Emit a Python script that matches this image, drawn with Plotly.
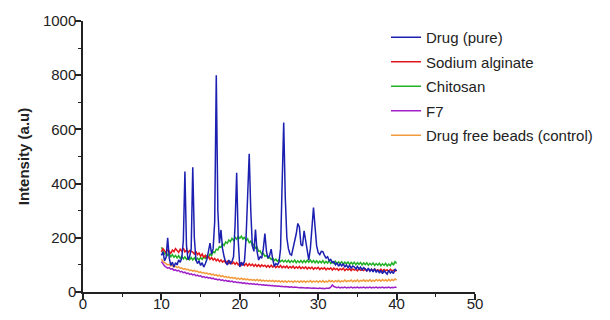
import numpy as np
import plotly.graph_objects as go

# 2-theta sampling grid (degrees), 10 to 40 in 0.2 steps
two_theta = np.round(np.arange(10.0, 40.0001, 0.2), 1)

drug_pure = [
    135, 148, 115, 128, 200, 125, 98, 110, 92, 108,
    100, 118, 110, 125, 190, 445, 170, 118, 130, 160,
    460, 200, 120, 105, 115, 98, 108, 92, 104, 120,
    150, 180, 140, 160, 260, 800, 300, 180, 229, 160,
    130, 110, 100, 118, 105, 112, 130, 250, 440, 190,
    92, 110, 98, 115, 200, 390, 510, 300, 170, 150,
    230, 150, 118, 130, 125, 160, 216, 150, 125, 135,
    158, 120, 95, 105, 100, 110, 160, 400, 625, 350,
    200, 160, 140, 136, 160, 190, 215, 253, 240, 175,
    170, 226, 190, 140, 118, 160, 250, 312, 240, 170,
    145, 138, 150, 149, 135, 125, 130, 115, 120, 108,
    112, 100, 108, 95, 104, 96, 105, 92, 100, 90,
    98, 88, 96, 93, 85, 94, 84, 92, 82, 90,
    85, 78, 88, 76, 84, 74, 86, 72, 82, 70,
    80, 68, 78, 72, 66, 80, 70, 76, 68, 85,
    78,
]

sodium_alginate = [
    148, 160, 152, 145, 158, 150, 142, 155, 149, 160,
    152, 146, 158, 150, 162, 148, 155, 145, 153, 150,
    147, 140, 150, 138, 144, 132, 140, 128, 135, 125,
    130, 120, 127, 118, 124, 115, 121, 112, 118, 110,
    116, 108, 114, 105, 112, 104, 110, 102, 109, 100,
    107, 99, 106, 98, 105, 96, 104, 97, 103, 95,
    102, 94, 101, 93, 100, 95, 99, 92, 98, 91,
    99, 92, 97, 90, 96, 91, 98, 89, 95, 90,
    96, 88, 94, 89, 95, 87, 93, 88, 94, 86,
    92, 87, 93, 85, 91, 86, 92, 84, 90, 86,
    91, 83, 89, 85, 90, 82, 88, 84, 89, 81,
    88, 83, 87, 80, 86, 82, 88, 79, 85, 81,
    86, 79, 85, 81, 84, 78, 86, 80, 83, 79,
    85, 78, 84, 80, 83, 77, 85, 79, 82, 78,
    84, 77, 83, 79, 82, 76, 84, 78, 81, 77,
    80,
]

chitosan = [
    165, 150, 140, 148, 135, 142, 130, 138, 128, 135,
    126, 134, 124, 132, 122, 130, 120, 128, 119, 127,
    118, 126, 117, 125, 118, 127, 120, 130, 124, 134,
    128, 140, 135, 148, 145, 158, 155, 168, 165, 178,
    172, 185, 180, 192, 186, 198, 190, 202, 195, 205,
    198, 206, 195, 203, 190, 196, 182, 188, 172, 176,
    162, 165, 150, 152, 140, 142, 132, 135, 125, 128,
    120, 124, 116, 121, 113, 119, 112, 118, 111, 117,
    110, 117, 109, 116, 110, 118, 108, 115, 109, 116,
    108, 116, 109, 117, 110, 118, 109, 116, 108, 115,
    107, 114, 108, 116, 106, 113, 107, 115, 105, 112,
    106, 113, 104, 111, 105, 112, 103, 110, 104, 111,
    102, 109, 103, 110, 101, 108, 102, 109, 100, 107,
    101, 108, 99, 106, 100, 107, 98, 105, 99, 106,
    97, 104, 98, 106, 96, 103, 97, 108, 99, 112,
    105,
]

f7 = [
    112, 102, 96, 92, 88, 90, 84, 86, 80, 82,
    78, 80, 74, 76, 71, 73, 68, 70, 65, 67,
    63, 65, 60, 62, 58, 60, 55, 57, 53, 55,
    51, 53, 49, 51, 47, 48, 45, 47, 43, 45,
    41, 43, 40, 41, 38, 40, 36, 38, 35, 36,
    34, 35, 32, 34, 31, 32, 30, 31, 29, 30,
    28, 29, 27, 28, 26, 27, 25, 26, 24, 25,
    23, 24, 22, 23, 21, 22, 20, 21, 19, 20,
    19, 20, 18, 19, 17, 18, 17, 18, 16, 17,
    16, 17, 15, 16, 15, 16, 14, 15, 14, 15,
    13, 15, 13, 14, 12, 14, 13, 14, 18, 26,
    20, 17, 16, 18, 15, 17, 16, 18, 15, 17,
    16, 18, 15, 17, 16, 18, 15, 17, 16, 18,
    15, 17, 16, 18, 15, 17, 16, 18, 15, 17,
    16, 18, 15, 17, 16, 18, 15, 17, 16, 18,
    16,
]

drug_free_beads = [
    122, 112, 108, 104, 100, 102, 96, 98, 93, 95,
    90, 93, 87, 89, 84, 86, 82, 84, 79, 81,
    77, 80, 75, 77, 72, 74, 70, 72, 68, 70,
    66, 68, 63, 66, 61, 64, 59, 62, 57, 60,
    55, 58, 53, 56, 51, 54, 50, 53, 48, 51,
    47, 51, 46, 49, 45, 48, 44, 47, 43, 46,
    42, 46, 41, 45, 40, 44, 40, 43, 39, 43,
    39, 43, 38, 42, 38, 42, 37, 41, 37, 41,
    36, 41, 37, 40, 36, 41, 37, 40, 36, 41,
    37, 41, 36, 40, 37, 42, 36, 40, 37, 41,
    36, 41, 37, 42, 36, 40, 37, 43, 38, 42,
    37, 42, 38, 43, 37, 41, 38, 44, 38, 42,
    39, 44, 38, 43, 39, 45, 38, 43, 40, 45,
    39, 44, 40, 46, 39, 44, 40, 46, 41, 45,
    40, 46, 41, 45, 40, 47, 41, 46, 42, 48,
    44,
]

series_names = ["Drug (pure)", "Sodium alginate", "Chitosan", "F7",
                "Drug free beads (control)"]
series_values = [drug_pure, sodium_alginate, chitosan, f7, drug_free_beads]
series_colors = ["#1c20b0", "#e3161c", "#22b026", "#a020c8", "#f29a3c"]

x_tick_vals = [0, 10, 20, 30, 40, 50]
y_tick_vals = [0, 200, 400, 600, 800, 1000]

FONT = "Arial, Liberation Sans, sans-serif"

fig = go.Figure()
# draw bottom to top: control, F7, chitosan, alginate, drug
for i in reversed(range(len(series_names))):
    fig.add_trace(go.Scatter(
        x=two_theta, y=series_values[i], mode="lines",
        name=series_names[i], legendrank=i + 1, legendgroup=series_names[i],
        line=dict(color=series_colors[i], width=1.5),
    ))

fig.update_layout(
    width=610, height=320,
    margin=dict(l=83, r=126, t=21, b=28),
    plot_bgcolor="white", paper_bgcolor="white",
    font=dict(family=FONT, color="#222", size=15),
    showlegend=True,
    legend=dict(x=0.773, y=1.0, xanchor="left", yanchor="top",
                bgcolor="rgba(0,0,0,0)", font=dict(size=15, color="#222"),
                tracegroupgap=2, itemwidth=30, traceorder="grouped"),
    xaxis=dict(range=[0, 50], tickvals=x_tick_vals, showgrid=False,
               zeroline=False, showline=True, linecolor="#222", linewidth=1.5,
               ticks="outside", ticklen=6, tickwidth=1.5, tickcolor="#222",
               tickfont=dict(size=15), automargin=False, ticklabelstandoff=-9,
               minor=dict(dtick=5, ticks="outside", ticklen=3, tickwidth=1.3,
                          tickcolor="#222", tick0=0)),
    yaxis=dict(range=[0, 1000], tickvals=y_tick_vals, showgrid=False,
               zeroline=False, showline=True, linecolor="#222", linewidth=1.5,
               ticks="outside", ticklen=6, tickwidth=1.5, tickcolor="#222",
               tickfont=dict(size=15), automargin=False, ticklabelstandoff=-4,
               title=dict(text="<b>Intensity (a.u)</b>", font=dict(size=15),
                          standoff=10),
               minor=dict(dtick=100, ticks="outside", ticklen=3, tickwidth=1.3,
                          tickcolor="#222", tick0=0)),
)

fig.write_html(
    "out.html",
    config={"displayModeBar": False},
    post_script="document.body.style.margin='0';document.body.style.padding='0';"
                "document.documentElement.style.overflow='hidden';",
)
